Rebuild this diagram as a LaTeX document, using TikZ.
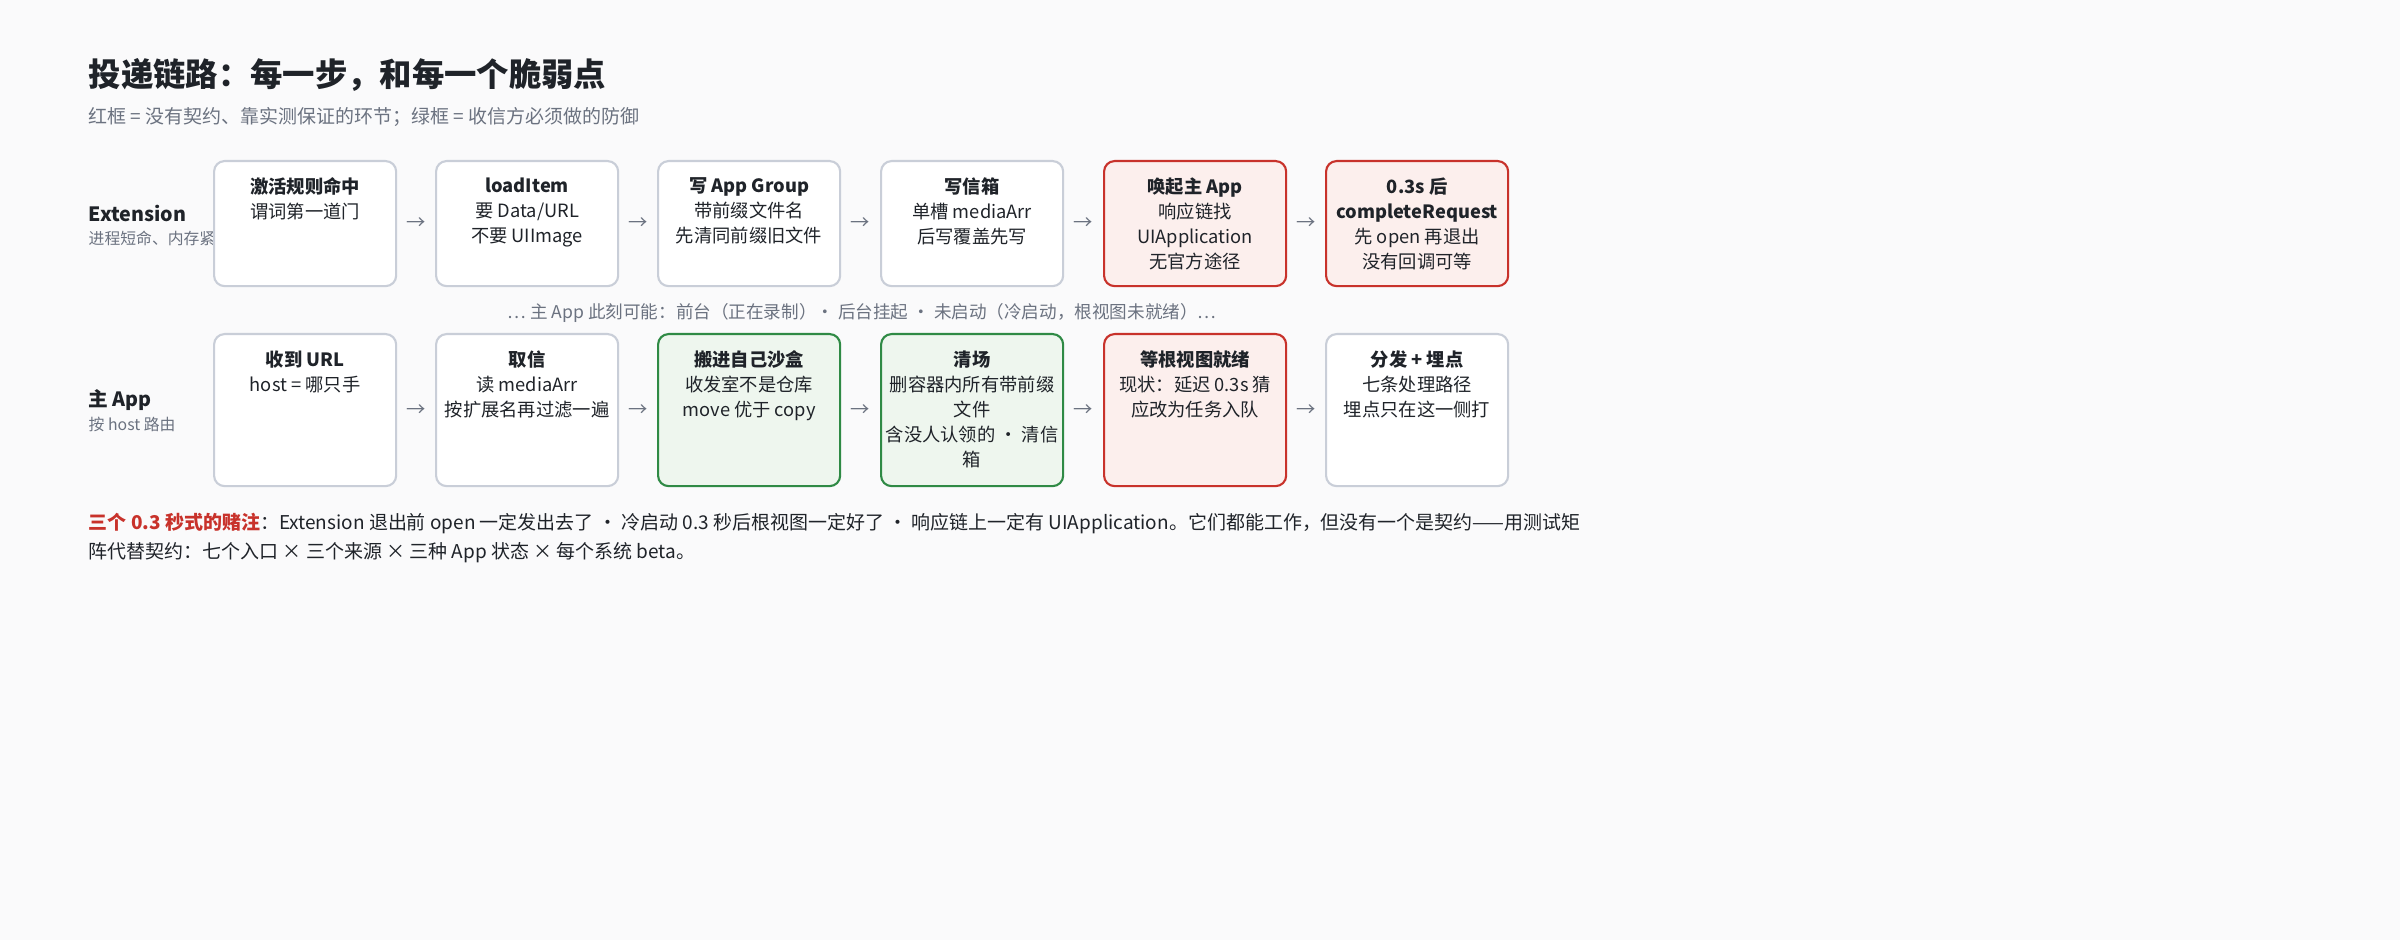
\documentclass[tikz,border=0pt]{standalone}
\usepackage{fontspec}
\setmainfont{Noto Sans CJK SC}
\usetikzlibrary{positioning,calc}
\definecolor{bg}{HTML}{FAFAFB}
\definecolor{ink}{HTML}{1F2329}
\definecolor{muted}{HTML}{6B7280}
\definecolor{edge}{HTML}{C9CED8}
\definecolor{redline}{HTML}{C8322B}
\definecolor{redfill}{HTML}{FCEFED}
\definecolor{greenline}{HTML}{2F8A45}
\definecolor{greenfill}{HTML}{EEF6EE}
\tikzset{
  box/.style={draw=edge, line width=0.6pt, rounded corners=3pt, fill=white,
    minimum width=1.82cm, anchor=north west, inner sep=0pt},
  risk/.style={box, draw=redline, fill=redfill},
  guard/.style={box, draw=greenline, fill=greenfill},
  txt/.style={anchor=north, align=center, text=ink, inner sep=0pt,
    font=\fontsize{5.2}{7.1}\selectfont, yshift=-0.17cm},
  hop/.style={text=muted, font=\fontsize{5.5}{6}\selectfont},
  side/.style={anchor=west, text=ink, font=\bfseries\fontsize{5.6}{6}\selectfont},
  sidenote/.style={anchor=west, text=muted, font=\fontsize{4.5}{5}\selectfont}
}
\begin{document}
\begin{tikzpicture}[x=0.01cm, y=-0.01cm]
\fill[bg] (0,0) rectangle (2400,940);
\useasboundingbox (0,0) rectangle (2400,940);

% heading
\node[anchor=west, text=ink, font=\bfseries\fontsize{9.2}{11}\selectfont, inner sep=0pt] (title) at (88,75) {投递链路：每一步，和每一个脆弱点};
\node[anchor=west, text=muted, font=\fontsize{5.4}{6}\selectfont, inner sep=0pt] (sub) at (88,117) {红框 = 没有契约、靠实测保证的环节；绿框 = 收信方必须做的防御};

% row 1: Extension
\node[side, inner sep=0pt] (ext) at (88,213) {Extension};
\node[sidenote, inner sep=0pt] (extn) at (88,238) {进程短命、内存紧};

\node[box,  minimum height=1.25cm, label={[txt]north:{\textbf{激活规则命中}\\谓词第一道门}}] (e1) at (213,160) {};
\node[box,  minimum height=1.25cm, label={[txt]north:{\textbf{loadItem}\\要 Data/URL\\不要 UIImage}}] (e2) at (435,160) {};
\node[box,  minimum height=1.25cm, label={[txt]north:{\textbf{写 App Group}\\带前缀文件名\\先清同前缀旧文件}}] (e3) at (657,160) {};
\node[box,  minimum height=1.25cm, label={[txt]north:{\textbf{写信箱}\\单槽 mediaArr\\后写覆盖先写}}] (e4) at (880,160) {};
\node[risk, minimum height=1.25cm, label={[txt]north:{\textbf{唤起主 App}\\响应链找\\UIApplication\\无官方途径}}] (e5) at (1103,160) {};
\node[risk, minimum height=1.25cm, label={[txt]north:{\textbf{0.3s 后}\\\textbf{completeRequest}\\先 open 再退出\\没有回调可等}}] (e6) at (1325,160) {};

\foreach \a/\b in {e1/e2,e2/e3,e3/e4,e4/e5,e5/e6}
  \node[hop] at ($(\a.east)!0.5!(\b.west)$) {→};

% state line
\node[text=muted, font=\fontsize{5}{6}\selectfont] (state) at (862,313) {… 主 App 此刻可能：前台（正在录制）· 后台挂起 · 未启动（冷启动，根视图未就绪）…};

% row 2: main app
\node[side, inner sep=0pt] (app) at (88,400) {主 App};
\node[sidenote, inner sep=0pt] (appn) at (88,424) {按 host 路由};

\node[box,   minimum height=1.52cm, label={[txt]north:{\textbf{收到 URL}\\host = 哪只手}}] (a1) at (213,333) {};
\node[box,   minimum height=1.52cm, label={[txt]north:{\textbf{取信}\\读 mediaArr\\按扩展名再过滤一遍}}] (a2) at (435,333) {};
\node[guard, minimum height=1.52cm, label={[txt]north:{\textbf{搬进自己沙盒}\\收发室不是仓库\\move 优于 copy}}] (a3) at (657,333) {};
\node[guard, minimum height=1.52cm, label={[txt]north:{\textbf{清场}\\删容器内所有带前缀\\文件\\含没人认领的 · 清信\\箱}}] (a4) at (880,333) {};
\node[risk,  minimum height=1.52cm, label={[txt]north:{\textbf{等根视图就绪}\\现状：延迟 0.3s 猜\\应改为任务入队}}] (a5) at (1103,333) {};
\node[box,   minimum height=1.52cm, label={[txt]north:{\textbf{分发 + 埋点}\\七条处理路径\\埋点只在这一侧打}}] (a6) at (1325,333) {};

\foreach \a/\b in {a1/a2,a2/a3,a3/a4,a4/a5,a5/a6}
  \node[hop] at ($(\a.east)!0.5!(\b.west)$) {→};

% bottom note
\node[anchor=north west, align=left, text=ink, inner sep=0pt, font=\fontsize{5.4}{8.5}\selectfont] (bet) at (88,512)
  {\textcolor{redline}{\textbf{三个 0.3 秒式的赌注}}：Extension 退出前 open 一定发出去了 · 冷启动 0.3 秒后根视图一定好了 · 响应链上一定有 UIApplication。它们都能工作，但没有一个是契约——用测试矩\\阵代替契约：七个入口 × 三个来源 × 三种 App 状态 × 每个系统 beta。};
\end{tikzpicture}
\end{document}
